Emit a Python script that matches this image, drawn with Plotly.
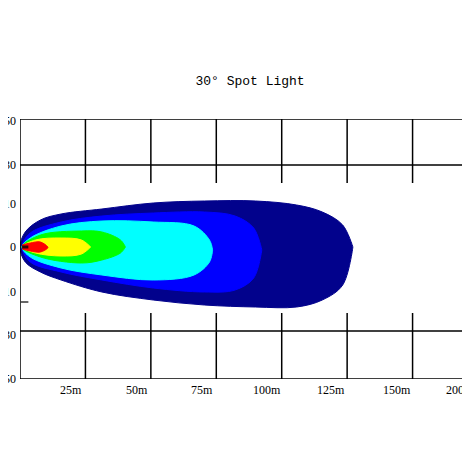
import plotly.graph_objects as go

# beam contours: distance (m) and lateral spread above / below axis
navy_x = [0, 2, 7.8, 15.7, 31.3, 50.9, 70.5, 90, 105.7, 115.5, 123.3, 127.2]
navy_top = [0, 15, 27, 33, 38, 44, 46, 46, 42, 35, 22, 0]
navy_bot = [0, -15, -25, -33, -45, -53, -58, -60, -60, -53, -38, 0]

blue_x = [0.8, 3.9, 15.7, 31.3, 50.9, 70.5, 82.2, 89.3, 92.4]
blue_top = [0, 14, 25, 31, 34, 35, 31, 19, -3]
blue_bot = [0, -15, -25, -33, -41, -45, -43, -31, -3]

cyan_x = [0.8, 3.9, 15.7, 31.3, 50.9, 66.5, 72.4, 73.6]
cyan_top = [0, 9, 21, 26, 25, 21, 7, -3]
cyan_bot = [0, -10, -21, -28, -33, -28, -15, -3]

green_x = [0.8, 7.8, 23.5, 31.3, 38.4, 40.3]
green_top = [0, 12, 16, 15, 7, 0]
green_bot = [0, -10, -16, -13, -6, 0]

yellow_x = [0.8, 5.9, 15.7, 23.5, 27]
yellow_top = [0, 7, 9, 7, 0]
yellow_bot = [0, -6, -9, -7, 0]

red_x = [0.8, 3.9, 7.8, 10.6]
red_top = [2, 4, 5, 0]
red_bot = [-2, -4, -5, -1]

x_labels = ["25m", "50m", "75m", "100m", "125m", "150m", "200m"]
x_label_pos = [19.6, 44.6, 69.5, 94.3, 119, 144, 168]
y_labels = ["50", "30", "10", "0", "10", "30", "50"]
y_label_pos = [126, 82, 43, 0, -45, -88, -132]

layers = [
    (navy_x, navy_top, navy_bot, "#02028c"),
    (blue_x, blue_top, blue_bot, "#0000ff"),
    (cyan_x, cyan_top, cyan_bot, "#00ffff"),
    (green_x, green_top, green_bot, "#00ff00"),
    (yellow_x, yellow_top, yellow_bot, "#ffff00"),
    (red_x, red_top, red_bot, "#ff0000"),
]

fig = go.Figure()
for xs, top, bot, color in layers:
    fig.add_trace(go.Scatter(
        x=xs + xs[::-1], y=top + bot[::-1], fill="toself", fillcolor=color,
        mode="lines", line=dict(color=color, width=1, shape="spline"),
        hoverinfo="skip", showlegend=False,
    ))
fig.add_trace(go.Scatter(x=[0.8, 3.2], y=[0, 0], mode="lines",
                         line=dict(color="#300000", width=3), showlegend=False))
fig.add_trace(go.Scatter(x=[0.3, 3.2], y=[-55, -55], mode="lines",
                         line=dict(color="#666666", width=2), showlegend=False))

line = dict(color="black", width=1.5)
shapes = [dict(type="rect", x0=0, x1=175, y0=-132, y1=128, line=line),
          dict(type="line", x0=0, x1=175, y0=82, y1=82, line=line),
          dict(type="line", x0=0, x1=175, y0=-84, y1=-84, line=line)]
for v in [25, 50, 75, 100, 125, 150]:
    shapes.append(dict(type="line", x0=v, x1=v, y0=64, y1=128, line=line))
    shapes.append(dict(type="line", x0=v, x1=v, y0=-132, y1=-66, line=line))

font = dict(family="Liberation Serif", size=12, color="black")
annotations = [dict(x=x, y=0, xref="x", yref="paper", text=t, showarrow=False,
                    yanchor="top", yshift=-2, font=font)
               for x, t in zip(x_label_pos, x_labels)]
annotations += [dict(x=0, y=y, xref="paper", yref="y", text=t, showarrow=False,
                     xanchor="right", xshift=-2, font=font)
                for y, t in zip(y_label_pos, y_labels)]

fig.update_layout(
    width=470, height=470, margin=dict(l=12, r=0, t=111, b=99),
    plot_bgcolor="white", paper_bgcolor="white",
    title=dict(text="30° Spot Light", x=0.515, y=0.845, xanchor="center",
               yanchor="middle",
               font=dict(family="Liberation Mono", size=13, color="black")),
    xaxis=dict(range=[0, 175], visible=False),
    yaxis=dict(range=[-132, 128], visible=False),
    shapes=shapes, annotations=annotations,
)
fig.write_html("out.html")
